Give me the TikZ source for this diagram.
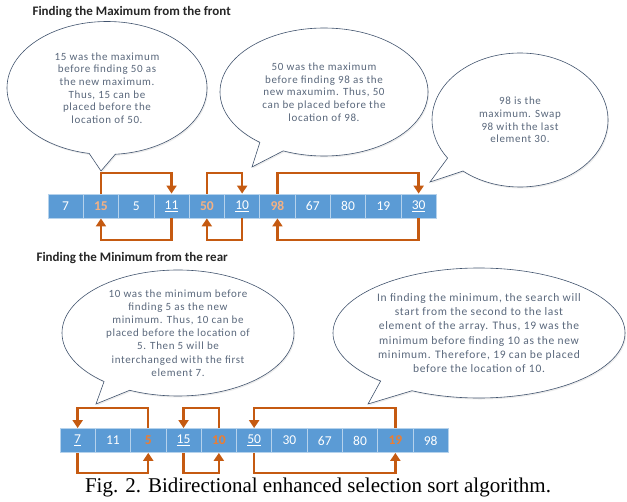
\documentclass[tikz,border=0pt]{standalone}
\usepackage{fontspec}
\setmainfont{Carlito}
\newfontfamily\notefont[LetterSpace=6]{Carlito}
\newfontfamily\capfont{Liberation Serif}
\usetikzlibrary{arrows.meta,shapes.callouts,shadows}
\definecolor{CellBlue}{RGB}{91,155,213}
\definecolor{LoopOrange}{RGB}{197,90,17}
\definecolor{MaxOrange}{RGB}{244,177,131}
\definecolor{MinOrange}{RGB}{237,125,49}
\definecolor{NoteText}{RGB}{90,104,124}
\definecolor{NoteLine}{RGB}{66,84,110}
\tikzset{
  cell/.style={
    draw=white!55!CellBlue, line width=0.8pt, fill=CellBlue,
    minimum width=35.3pt, minimum height=24pt, inner sep=0pt,
    text=white, font=\fontsize{13.5}{15}\selectfont
  },
  loop/.style={-{Triangle[length=8pt,width=10pt]}, line width=2.4pt, draw=LoopOrange},
  note/.style={
    ellipse callout, draw=NoteLine, line width=0.6pt, fill=white,
    align=center, text=NoteText, inner sep=0pt,
    font=\notefont\fontsize{11}{12.7}\selectfont,
    drop shadow={opacity=0.15,shadow xshift=1pt,shadow yshift=-1.5pt}
  },
  heading/.style={font=\bfseries\fontsize{13}{15}\selectfont, anchor=west, text=black!85},
}
\newcommand{\maxv}[1]{\textbf{\color{MaxOrange}#1}}
\newcommand{\minv}[1]{\textbf{\color{MinOrange}#1}}

\begin{document}
\begin{tikzpicture}[x=1pt,y=-1pt]
\useasboundingbox (0,0) rectangle (627,502);

% ---- Headings ----
\node[heading] (hmax) at (29,12) {Finding the Maximum from the front};
\node[heading] (hmin) at (33,258) {Finding the Minimum from the rear};

% ---- Arrays ----
\foreach \v [count=\i] in {7,\maxv{15},5,\underline{11},\maxv{50},\underline{10},\maxv{98},67,80,19,\underline{30}}
  \node[cell] (t\i) at ({48+35.3*(\i-0.5)},206) {\v};
\foreach \v [count=\i] in {\underline{7},11,\minv{5},\underline{15},\minv{10},\underline{50},30,67,80,\minv{19},98}
  \node[cell] (b\i) at ({60+35.3*(\i-0.5)},440.5) {\v};

% ---- Loop levels ----
\coordinate (tup) at (0,173);
\coordinate (tdn) at (0,240);
\coordinate (bup) at (0,408);
\coordinate (bdn) at (0,473);

% ---- Maximum loops ----
\draw[loop] (t2.north) -- (t2.north |- tup) -| (t4.north);
\draw[loop] (t4.south) -- (t4.south |- tdn) -| (t2.south);
\draw[loop] (t5.north) -- (t5.north |- tup) -| (t6.north);
\draw[loop] (t6.south) -- (t6.south |- tdn) -| (t5.south);
\draw[loop] (t7.north) -- (t7.north |- tup) -| (t11.north);
\draw[loop] (t11.south) -- (t11.south |- tdn) -| (t7.south);

% ---- Minimum loops ----
\draw[loop] (b3.north) -- (b3.north |- bup) -| (b1.north);
\draw[loop] (b1.south) -- (b1.south |- bdn) -| (b3.south);
\draw[loop] (b5.north) -- (b5.north |- bup) -| (b4.north);
\draw[loop] (b4.south) -- (b4.south |- bdn) -| (b5.south);
\draw[loop] (b10.north) -- (b10.north |- bup) -| (b6.north);
\draw[loop] (b6.south) -- (b6.south |- bdn) -| (b10.south);

% ---- Callouts ----
\coordinate (p1) at (101,171);
\coordinate (p2) at (252,167);
\coordinate (p3) at (430,182);
\coordinate (p4) at (96,404);
\coordinate (p5) at (368,404);

\node[note, minimum width=200pt, minimum height=133pt, callout absolute pointer=(p1)] (n1) at (107,88)
  {15 was the maximum\\before finding 50 as\\the new maximum.\\Thus, 15 can be\\placed before the\\location of 50.};
\node[note, minimum width=208pt, minimum height=128pt, callout absolute pointer=(p2)] (n2) at (324,92)
  {50 was the maximum\\before finding 98 as the\\new maxumim. Thus, 50\\can be placed before the\\location of 98.};
\node[note, minimum width=176pt, minimum height=134pt, callout absolute pointer=(p3)] (n3) at (520,120)
  {98 is the\\maximum. Swap\\98 with the last\\element 30.};
\node[note, minimum width=232pt, minimum height=126pt, callout absolute pointer=(p4),
  font=\notefont\fontsize{11}{13.2}\selectfont] (n4) at (178,333)
  {10 was the minimum before\\finding 5 as the new\\minimum. Thus, 10 can be\\placed before the location of\\5. Then 5 will be\\interchanged with the first\\element 7.};
\node[note, minimum width=292pt, minimum height=130pt, callout absolute pointer=(p5),
  font=\notefont\fontsize{11.5}{14.2}\selectfont] (n5) at (479,333)
  {In finding the minimum, the search will\\start from the second to the last\\element of the array. Thus, 19 was the\\minimum before finding 10 as the new\\minimum. Therefore, 19 can be placed\\before the location of 10.};

% ---- Caption ----
\node[font=\capfont\fontsize{21}{24}\selectfont] (cap) at (318,487)
  {Fig. 2. Bidirectional enhanced selection sort algorithm.};

\end{tikzpicture}
\end{document}
